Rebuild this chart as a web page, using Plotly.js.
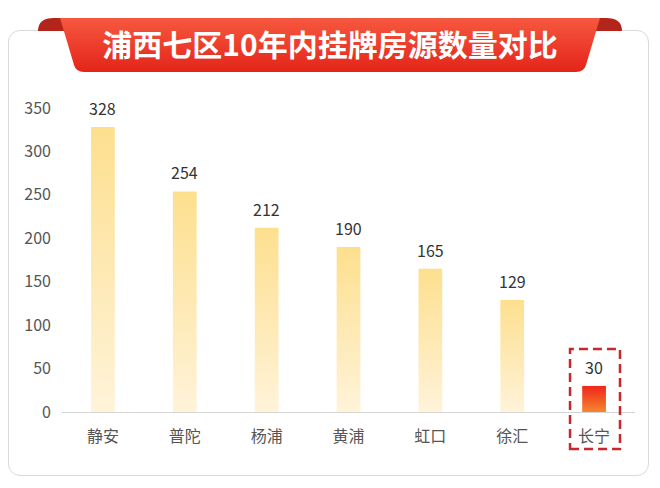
<!DOCTYPE html>
<html><head><meta charset="utf-8">
<script src="https://cdn.plot.ly/plotly-3.0.1.min.js"></script>
<style>
html,body{margin:0;padding:0;background:#fff;}
#wrap{position:relative;width:660px;height:488px;overflow:hidden;}
#card{position:absolute;left:8px;top:30px;width:641px;height:446px;border:1.5px solid #d9d9d9;border-radius:12px;box-sizing:border-box;}
#ribbon{position:absolute;left:0;top:0;}
#chart{position:absolute;left:0;top:0;width:660px;height:488px;}
</style></head><body>
<div id="wrap">
<div id="card"></div>
<svg id="ribbon" width="660" height="90">
<defs>
<linearGradient id="rg" x1="0" y1="0" x2="0" y2="1"><stop offset="0" stop-color="#f6583f"/><stop offset="1" stop-color="#e4241a"/></linearGradient>
</defs>
<path d="M38,31 Q38,18 54,18 L72,18 L72,31 Z" fill="#b3241b"/>
<path d="M622,31 Q622,18 606,18 L588,18 L588,31 Z" fill="#b3241b"/>
<path d="M60,18 L600,18 L586,65 Q584,72 576,72 L84,72 Q76,72 74,65 Z" fill="url(#rg)"/>
</svg>
<div id="chart"></div>
</div>
<script>
var categories = ['静安','普陀','杨浦','黄浦','虹口','徐汇','长宁'];
var counts = [328,254,212,190,165,129,30];
var highlight = '长宁';
var yTicks = [0,50,100,150,200,250,300,350];
var titleText = '浦西七区10年内挂牌房源数量对比';

var FONT = '"Noto Sans CJK SC", "Noto Sans", sans-serif';

var data = [{
  type:'bar',
  x: categories,
  y: counts,
  marker:{color: categories.map(function(c){return c===highlight ? '#f24a24' : '#fde7a6';}), line:{width:0}},
  hoverinfo:'none'
}];

var annotations = categories.map(function(c,i){
  return {x:c, y:counts[i], xref:'x', yref:'y', text:String(counts[i]), showarrow:false,
    yanchor:'middle', yshift:19, font:{family:FONT, size:16, color:'#333'}};
});

var layout = {
  width:660, height:488,
  margin:{l:62, r:25, t:108, b:76},
  paper_bgcolor:'rgba(0,0,0,0)', plot_bgcolor:'rgba(0,0,0,0)',
  font:{family:FONT},
  title:{text:titleText, x:0.5, xref:'container', y:1-45/488, yref:'container', yanchor:'middle',
    font:{family:FONT, size:30, color:'#ffffff', weight:'bold'}},
  bargap:0.71,
  showlegend:false,
  xaxis:{type:'category', showline:true, linecolor:'#d4d4d4', linewidth:1, showgrid:false, zeroline:false,
    ticks:'', ticklabelstandoff:10, tickfont:{family:FONT, size:16, color:'#555'}},
  yaxis:{range:[0,350], tickvals:yTicks, showgrid:false, zeroline:false, showline:false,
    ticks:'', ticklabelstandoff:10, tickfont:{family:FONT, size:16, color:'#555'}},
  annotations: annotations,
  shapes:[{type:'rect', xref:'paper', yref:'paper', x0:0.8866, x1:0.9738, y0:-0.1217, y1:0.2072,
    line:{color:'#c8282c', width:2.5, dash:'9px,5px'}, fillcolor:'rgba(0,0,0,0)'}]
};

Plotly.newPlot('chart', data, layout, {staticPlot:true, displayModeBar:false}).then(function(gd){
  var svg = gd.querySelector('svg.main-svg');
  var ns = 'http://www.w3.org/2000/svg';
  var defs = svg.querySelector('defs');
  if(!defs){ defs = document.createElementNS(ns,'defs'); svg.insertBefore(defs, svg.firstChild); }
  function grad(id, top, bottom){
    var g = document.createElementNS(ns,'linearGradient');
    g.setAttribute('id', id); g.setAttribute('x1','0'); g.setAttribute('y1','0'); g.setAttribute('x2','0'); g.setAttribute('y2','1');
    [[0,top],[1,bottom]].forEach(function(s){
      var st = document.createElementNS(ns,'stop');
      st.setAttribute('offset', s[0]); st.setAttribute('stop-color', s[1]);
      g.appendChild(st);
    });
    defs.appendChild(g);
  }
  grad('gradYellow', '#fddf8e', '#fff3d9');
  grad('gradRed', '#f0251a', '#f6862f');
  var paths = gd.querySelectorAll('.barlayer .point path');
  paths.forEach(function(p,i){
    p.style.fill = categories[i]===highlight ? 'url(#gradRed)' : 'url(#gradYellow)';
  });
});
</script>
</body></html>
